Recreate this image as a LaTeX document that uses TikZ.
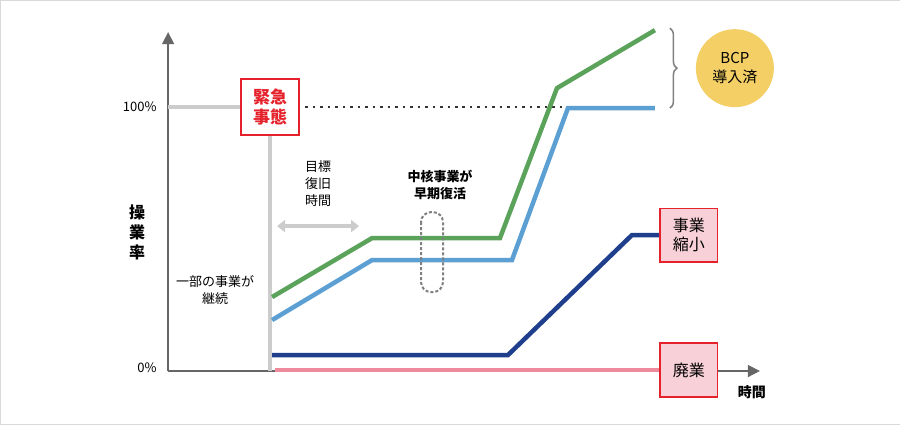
\documentclass[tikz,border=0pt]{standalone}
\usepackage{fontspec}
\setmainfont{Noto Sans CJK JP}
\usetikzlibrary{arrows.meta,decorations.pathreplacing}
\definecolor{bcpgreen}{HTML}{5BA35B}
\definecolor{bcpblue}{HTML}{5B9FD3}
\definecolor{bcpnavy}{HTML}{1F3F8C}
\definecolor{bcppink}{HTML}{EE8A9B}
\definecolor{bcpred}{HTML}{E5212B}
\definecolor{bcpyellow}{HTML}{F3CF66}
\definecolor{axisgray}{HTML}{666666}
\tikzset{
  curve/.style={line width=4.5pt},
  labelbox/.style={draw=bcpred,fill=bcppink!40,line width=1.2pt,minimum width=58pt,minimum height=54pt,align=center,font=\fontsize{16}{19}\selectfont},
  note/.style={align=center,font=\fontsize{13}{17}\selectfont}
}
\begin{document}
\begin{tikzpicture}[x=1pt,y=-1pt]
\draw[draw=gray!30,fill=white] (0,0) rectangle (900,424);
% axes
\draw[axisgray,line width=1.5pt,-{Triangle[length=12pt,width=12pt]}] (168,371) -- (168,32);
\draw[axisgray,line width=1.5pt,-{Triangle[length=12pt,width=12pt]}] (168,371) -- (760,371);
\node[note,anchor=east] (p100) at (160,107) {100\%};
\node[note,anchor=east] (p0) at (160,368) {0\%};
\node[note,font=\fontsize{16}{20}\selectfont\bfseries,align=center] (yl) at (137,232) {操\\業\\率};
\node[note,font=\fontsize{14}{17}\selectfont\bfseries] (xl) at (752,392) {時間};
% emergency
\draw[gray!40,line width=4pt] (168,107) -- (240,107);
\draw[gray!40,line width=4pt] (270,135) -- (270,371);
\node[draw=bcpred,fill=white,line width=1.5pt,minimum width=58pt,minimum height=56pt,align=center,text=bcpred,font=\fontsize{17}{20}\selectfont\bfseries] (emg) at (270,107) {緊急\\事態};
\draw[line width=2.5pt,dash pattern=on 2.5pt off 5pt,black!80] (305,107) -- (655,107);
% curves
\draw[curve,bcppink] (275,370) -- (660,370);
\draw[curve,bcpnavy] (272,355) -- (508,355) -- (632,235) -- (660,235);
\draw[curve,bcpblue] (272,320) -- (372,260) -- (512,260) -- (568,108) -- (655,108);
\draw[curve,bcpgreen] (272,297) -- (372,238) -- (500,238) -- (557,88) -- (655,30);
% labels
\node[note] (part) at (215,290) {一部の事業が\\継続};
\node[note] (goal) at (318,183) {目標\\復旧\\時間};
\draw[gray!40,line width=4pt,{Triangle[length=8pt,width=12pt]}-{Triangle[length=8pt,width=12pt]}] (277,226) -- (359,226);
\node[note,font=\fontsize{13}{17}\selectfont\bfseries] (core) at (440,185) {中核事業が\\早期復活};
\draw[gray,line width=2pt,dash pattern=on 3pt off 2pt,rounded corners=10pt] (421,212) rectangle (443,292);
\node[labelbox] (shrink) at (689,235) {事業\\縮小};
\node[labelbox] (close) at (689,370) {廃業};
\draw[gray,line width=1.5pt,decorate,decoration={brace,amplitude=7pt}] (670,28) -- (670,108);
\node[circle,fill=bcpyellow,minimum size=78pt,align=center,font=\fontsize{15}{19}\selectfont] (bcp) at (735,68) {BCP\\導入済};
\end{tikzpicture}
\end{document}
